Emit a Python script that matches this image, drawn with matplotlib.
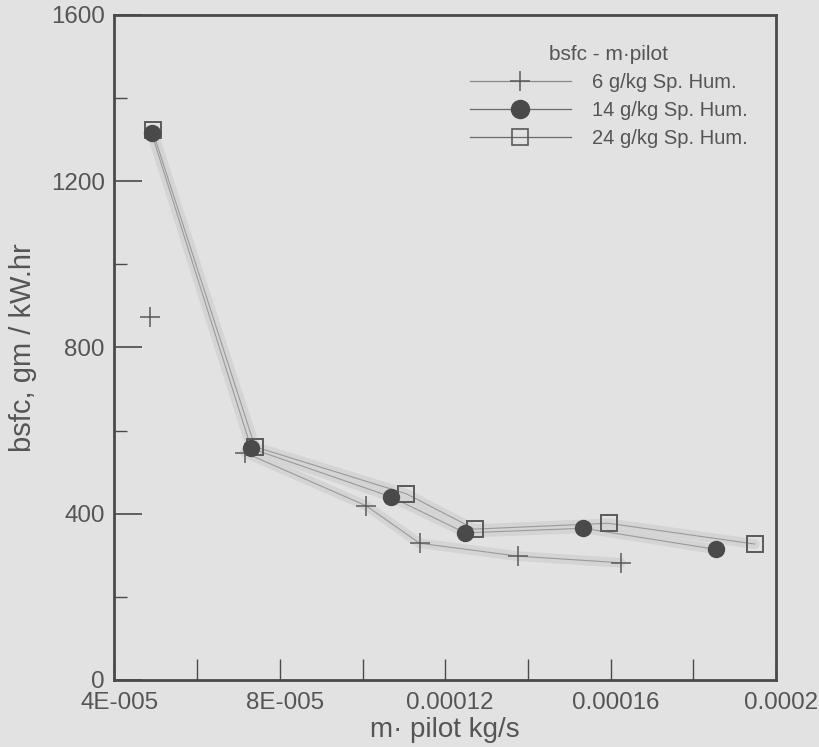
import matplotlib
matplotlib.use("Agg")
import matplotlib.pyplot as plt
from matplotlib.ticker import MultipleLocator, FixedLocator, FixedFormatter
from matplotlib.lines import Line2D
from matplotlib.transforms import ScaledTranslation

plt.rcParams['font.family'] = ['Liberation Sans', 'DejaVu Sans']

# ---- data ----
x_6 = [4.86e-5, 7.15e-5, 1.009e-4, 1.138e-4, 1.376e-4, 1.625e-4]
y_6 = [873, 547, 419, 329, 298, 282]

x_14 = [4.90e-5, 7.31e-5, 1.068e-4, 1.248e-4, 1.534e-4, 1.856e-4]
y_14 = [1315, 557, 441, 354, 365, 314]

x_24 = [4.92e-5, 7.40e-5, 1.106e-4, 1.271e-4, 1.595e-4, 1.949e-4]
y_24 = [1322, 561, 448, 363, 377, 327]

labels = ["6 g/kg Sp. Hum.", "14 g/kg Sp. Hum.", "24 g/kg Sp. Hum."]
legend_title = "bsfc - m\u00b7pilot"
x_ticks = [4e-5, 8e-5, 1.2e-4, 1.6e-4, 2e-4]
x_ticklabels = ["4E-005", "8E-005", "0.00012", "0.00016", "0.0002"]
y_ticks = [0, 400, 800, 1200, 1600]

BG = "#e2e2e2"
INK = "#4a4a4a"
TXT = "#555555"

fig = plt.figure(figsize=(8.2, 7.47), dpi=100, facecolor=BG)
ax = fig.add_axes([0.1396, 0.0897, 0.8067, 0.8903], facecolor=BG)

halo = dict(color="#d4d4d4", lw=7, solid_capstyle="round", zorder=1)
thin = dict(color="#9a9a9a", lw=0.8, zorder=2)

# halos
ax.plot(x_6[1:], y_6[1:], **halo)
ax.plot(x_14, y_14, **halo)
ax.plot(x_24, y_24, **halo)

ax.plot(x_6[1:], y_6[1:], **thin)
ax.plot(x_6, y_6, ls="none", marker="+", ms=14, mew=1.1, color="#5a5a5a", zorder=4)
ax.plot(x_14, y_14, **thin)
ax.plot(x_14, y_14, ls="none", marker="o", ms=11.5, mfc=INK, mec=INK, zorder=5)
ax.plot(x_24, y_24, **thin)
ax.plot(x_24, y_24, ls="none", marker="s", ms=11.5, mfc="none", mec="#5a5a5a", mew=1.4, zorder=4)

# legend handles
h6 = Line2D([], [], color="#8a8a8a", lw=0.9, marker="+", ms=14, mew=1.1, mec="#5a5a5a")
h14 = Line2D([], [], color="#6a6a6a", lw=0.9, marker="o", ms=13, mfc=INK, mec=INK)
h24 = Line2D([], [], color="#6a6a6a", lw=0.9, marker="s", ms=11, mfc="none", mec="#5a5a5a", mew=1.2)
leg = ax.legend([h6, h14, h24], labels, title=legend_title,
                loc="upper left", bbox_to_anchor=(0.51, 0.982),
                frameon=False, fontsize=14.5, title_fontsize=15,
                handlelength=5.0, handletextpad=1.05, labelspacing=0.45,
                labelcolor=TXT)
leg.get_title().set_color(TXT)

ax.set_xlim(4e-5, 2e-4)
ax.set_ylim(0, 1600)
ax.xaxis.set_major_locator(FixedLocator(x_ticks))
ax.xaxis.set_major_formatter(FixedFormatter(x_ticklabels))
ax.xaxis.set_minor_locator(MultipleLocator(2e-5))
ax.yaxis.set_major_locator(FixedLocator(y_ticks))
ax.yaxis.set_minor_locator(MultipleLocator(200))

ax.tick_params(which="both", direction="in", colors=INK, labelcolor=TXT, labelsize=17.4)
ax.tick_params(axis="y", which="major", length=20, width=1.2, pad=7)
ax.tick_params(axis="y", which="minor", length=9, width=1.0)
ax.tick_params(axis="x", which="both", length=15, width=1.0, pad=9)
for s in ax.spines.values():
    s.set_color(INK)
    s.set_linewidth(2.0)

shift = ScaledTranslation(5 / 100, 0, fig.dpi_scale_trans)
for lab in ax.get_xticklabels():
    lab.set_transform(lab.get_transform() + shift)

ax.set_xlabel("m\u00b7 pilot kg/s", fontsize=20, color=TXT, labelpad=2)
ax.set_ylabel("bsfc, gm / kW.hr", fontsize=21, color=TXT, labelpad=10)

fig.savefig("out.png", dpi=100, facecolor=BG)
